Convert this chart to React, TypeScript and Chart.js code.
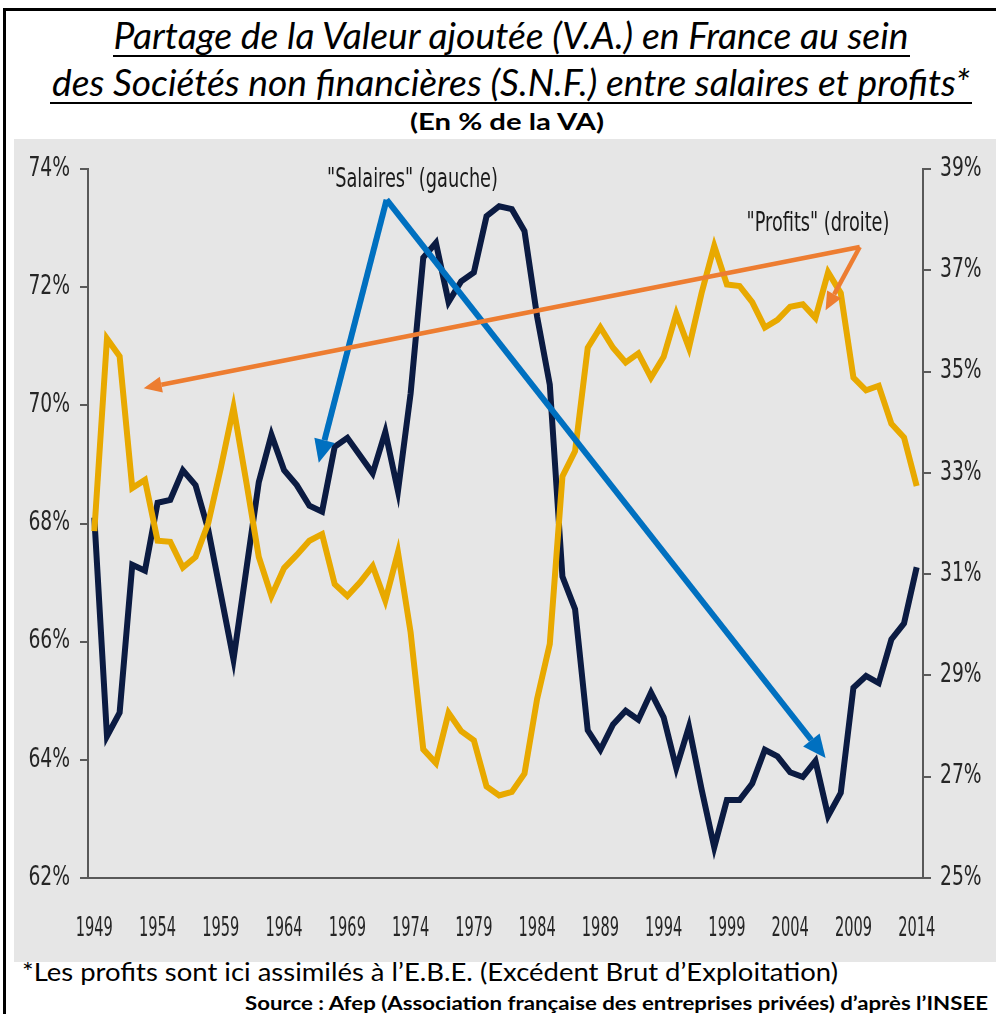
import React, { useEffect, useRef } from 'react';
import { Chart, registerables } from 'chart.js';

Chart.register(...registerables);

const years = [
  '1949', '1950', '1951', '1952', '1953', '1954', '1955', '1956', '1957', '1958',
  '1959', '1960', '1961', '1962', '1963', '1964', '1965', '1966', '1967', '1968',
  '1969', '1970', '1971', '1972', '1973', '1974', '1975', '1976', '1977', '1978',
  '1979', '1980', '1981', '1982', '1983', '1984', '1985', '1986', '1987', '1988',
  '1989', '1990', '1991', '1992', '1993', '1994', '1995', '1996', '1997', '1998',
  '1999', '2000', '2001', '2002', '2003', '2004', '2005', '2006', '2007', '2008',
  '2009', '2010', '2011', '2012', '2013', '2014',
];

// "Salaires" (left axis, % of VA)
const salaires = [
  68.1, 64.4, 64.8, 67.3, 67.2, 68.35, 68.4, 68.9, 68.65, 67.9,
  66.8, 65.7, 67.2, 68.7, 69.5, 68.9, 68.65, 68.3, 68.2, 69.3,
  69.45, 69.15, 68.85, 69.55, 68.55, 70.2, 72.5, 72.75, 71.75, 72.1,
  72.25, 73.2, 73.37, 73.32, 72.95, 71.5, 70.35, 67.1, 66.55, 64.5,
  64.17, 64.6, 64.83, 64.68, 65.14, 64.72, 63.86, 64.56, 63.5, 62.52,
  63.32, 63.32, 63.6, 64.17, 64.06, 63.79, 63.71, 63.98, 63.05, 63.44,
  65.22, 65.42, 65.3, 66.04, 66.31, 67.26,
];

// "Profits" (right axis, % of VA)
const profits = [
  31.85, 35.65, 35.3, 32.7, 32.86, 31.66, 31.64, 31.13, 31.34, 32.0,
  33.1, 34.29, 32.84, 31.34, 30.57, 31.12, 31.38, 31.66, 31.79, 30.8,
  30.57, 30.84, 31.16, 30.48, 31.43, 29.85, 27.54, 27.27, 28.26, 27.9,
  27.72, 26.81, 26.63, 26.7, 27.06, 28.54, 29.62, 32.93, 33.43, 35.47,
  35.87, 35.47, 35.18, 35.36, 34.88, 35.29, 36.14, 35.47, 36.55, 37.48,
  36.72, 36.69, 36.37, 35.87, 36.02, 36.28, 36.33, 36.06, 36.96, 36.55,
  34.88, 34.63, 34.72, 33.97, 33.7, 32.74,
];

const leftTicks = [62, 64, 66, 68, 70, 72, 74];
const rightTicks = [25, 27, 29, 31, 33, 35, 37, 39];

// annotation anchors in data units: [year, left-axis value]
const salairesLabel = ['"Salaires" (gauche)', 1974.15, 73.82];
const salairesArrowFrom = [1972.1, 73.48];
const salairesArrowTo = [[1966.74, 69.03], [2006.8, 64.03]];
const profitsLabel = ['"Profits" (droite)', 2006.2, 73.07];
const profitsArrowFrom = [2009.5, 72.68];
const profitsArrowTo = [[1952.9, 70.29], [2006.8, 71.61]];

const TICK_FONT = "'DejaVu Sans Condensed', 'Liberation Sans Narrow', 'Arial Narrow', sans-serif";
// horizontal squeeze per font size (imitates the narrow, tall glyphs of the original)
const SQUEEZE = { 27: 0.6, 26: 0.8 };

function drawArrow(ctx, x0, y0, x1, y1, color, width, headLen, headW) {
  const ang = Math.atan2(y1 - y0, x1 - x0);
  const bx = x1 - Math.cos(ang) * headLen;
  const by = y1 - Math.sin(ang) * headLen;
  ctx.save();
  ctx.strokeStyle = color;
  ctx.fillStyle = color;
  ctx.lineWidth = width;
  ctx.lineCap = 'butt';
  ctx.beginPath();
  ctx.moveTo(x0, y0);
  ctx.lineTo(bx, by);
  ctx.stroke();
  ctx.beginPath();
  ctx.moveTo(x1, y1);
  ctx.lineTo(bx + Math.sin(ang) * headW / 2, by - Math.cos(ang) * headW / 2);
  ctx.lineTo(bx - Math.sin(ang) * headW / 2, by + Math.cos(ang) * headW / 2);
  ctx.closePath();
  ctx.fill();
  ctx.restore();
}

const squeezePlugin = {
  id: 'squeeze',
  beforeDraw(chart) {
    const ctx = chart.ctx;
    if (Object.prototype.hasOwnProperty.call(ctx, 'fillText')) return;
    const orig = CanvasRenderingContext2D.prototype.fillText;
    ctx.fillText = function (text, x, y) {
      const m = /(\d+(?:\.\d+)?)px/.exec(this.font);
      const size = m ? Math.round(parseFloat(m[1])) : 0;
      const sx = SQUEEZE[size] ?? 1;
      this.save();
      this.translate(x, y);
      this.scale(sx, 1);
      orig.call(this, text, 0, 0);
      this.restore();
    };
  },
  beforeDatasetsDraw(chart) {
    delete chart.ctx.fillText;
  },
  afterDraw(chart) {
    delete chart.ctx.fillText;
  },
};

const annotationPlugin = {
  id: 'annotations',
  afterDatasetsDraw(chart) {
    const { ctx } = chart;
    const xs = chart.scales.x;
    const ys = chart.scales.y;
    const px = (yr) => xs.getPixelForValue(yr - 1949);
    const py = (v) => ys.getPixelForValue(v);

    const sx0 = px(salairesArrowFrom[0]);
    const sy0 = py(salairesArrowFrom[1]);
    salairesArrowTo.forEach(([yr, v]) => {
      drawArrow(ctx, sx0, sy0, px(yr), py(v), '#0070c0', 6, 23, 21);
    });
    const ox0 = px(profitsArrowFrom[0]);
    const oy0 = py(profitsArrowFrom[1]);
    profitsArrowTo.forEach(([yr, v]) => {
      drawArrow(ctx, ox0, oy0, px(yr), py(v), '#ed7d31', 4.5, 18, 16);
    });

    ctx.save();
    ctx.fillStyle = '#1a1a1a';
    ctx.font = `27px ${TICK_FONT}`;
    ctx.textAlign = 'center';
    ctx.textBaseline = 'middle';
    [salairesLabel, profitsLabel].forEach(([t, yr, v]) => {
      ctx.save();
      ctx.translate(px(yr as number), py(v as number));
      ctx.scale(0.73, 1);
      ctx.fillText(t as string, 0, 0);
      ctx.restore();
    });
    ctx.restore();
  },
};

function ChartCanvas() {
  const ref = useRef(null);
  useEffect(() => {
    const chart = new Chart(ref.current, {
      type: 'line',
      data: {
        labels: years,
        datasets: [
          {
            label: 'Profits',
            data: profits,
            yAxisID: 'y1',
            borderColor: '#e8a900',
            borderWidth: 6,
            pointRadius: 0,
            tension: 0,
            order: 1,
          },
          {
            label: 'Salaires',
            data: salaires,
            yAxisID: 'y',
            borderColor: '#0b1b42',
            borderWidth: 6,
            pointRadius: 0,
            tension: 0,
            order: 2,
          },
        ],
      },
      options: {
        animation: false,
        responsive: false,
        maintainAspectRatio: false,
        layout: { padding: { top: 30, left: 0, right: 0, bottom: 0 } },
        plugins: {
          legend: { display: false },
          tooltip: { enabled: false },
          title: { display: false },
        },
        scales: {
          x: {
            type: 'category',
            offset: true,
            grid: { display: false, drawTicks: false },
            border: { display: true, color: '#595959', width: 2 },
            ticks: {
              autoSkip: false,
              maxRotation: 0,
              minRotation: 0,
              padding: 35,
              color: '#262626',
              font: { family: TICK_FONT, size: 27 },
              callback: (v, i) => (i % 5 === 0 ? years[i] : ''),
            },
            afterFit: (s) => { s.height = 84; },
          },
          y: {
            position: 'left',
            min: 62,
            max: 74,
            afterBuildTicks: (s) => { s.ticks = leftTicks.map((v) => ({ value: v })); },
            ticks: {
              padding: 10,
              color: '#262626',
              font: { family: TICK_FONT, size: 26 },
              callback: (v) => `${v}%`,
            },
            grid: { drawOnChartArea: false, tickLength: 8, color: '#595959', lineWidth: 2 },
            border: { display: true, color: '#595959', width: 2 },
            afterFit: (s) => { s.width = 74; },
          },
          y1: {
            position: 'right',
            min: 25,
            max: 39,
            afterBuildTicks: (s) => { s.ticks = rightTicks.map((v) => ({ value: v })); },
            ticks: {
              padding: 9,
              color: '#262626',
              font: { family: TICK_FONT, size: 26 },
              callback: (v) => `${v}%`,
            },
            grid: { drawOnChartArea: false, tickLength: 8, color: '#595959', lineWidth: 2 },
            border: { display: true, color: '#595959', width: 2 },
            afterFit: (s) => { s.width = 73; },
          },
        },
      },
      plugins: [squeezePlugin, annotationPlugin],
    });
    return () => chart.destroy();
  }, []);
  return (
    <canvas
      ref={ref}
      width={982}
      height={823}
      style={{ position: 'absolute', left: 14, top: 139, width: 982, height: 823, background: '#e6e6e6' }}
    />
  );
}

export default function App() {
  const font = "Lato, 'Open Sans', sans-serif";
  return (
    <div style={{ position: 'absolute', left: 0, top: 0, width: 996, height: 1014, background: '#fff', overflow: 'hidden' }}>
      <svg width={996} height={1014} style={{ position: 'absolute', left: 0, top: 0 }}>
        <rect x={3} y={8} width={1000} height={3} fill="#000" />
        <rect x={3} y={8} width={3} height={1010} fill="#000" />
        <text x={511} y={49} textAnchor="middle" fontFamily={font} fontStyle="italic" fontSize={36}
          textLength={795} lengthAdjust="spacingAndGlyphs" fill="#000">
          Partage de la Valeur ajoutée (V.A.) en France au sein
        </text>
        <rect x={113} y={55} width={797} height={2} fill="#000" />
        <text x={511} y={96} textAnchor="middle" fontFamily={font} fontStyle="italic" fontSize={36}
          textLength={918} lengthAdjust="spacingAndGlyphs" fill="#000">
          des Sociétés non financières (S.N.F.) entre salaires et profits*
        </text>
        <rect x={50} y={102} width={922} height={2} fill="#000" />
        <text x={507} y={130} textAnchor="middle" fontFamily={font} fontWeight="bold" fontSize={23}
          textLength={194} lengthAdjust="spacingAndGlyphs" fill="#000">
          (En % de la VA)
        </text>
        <text x={22} y={981} fontFamily={font} fontSize={25}
          textLength={816} lengthAdjust="spacingAndGlyphs" fill="#000">
          *Les profits sont ici assimilés à l’E.B.E. (Excédent Brut d’Exploitation)
        </text>
        <text x={988} y={1010} textAnchor="end" fontFamily={font} fontWeight="bold" fontSize={19}
          textLength={743} lengthAdjust="spacingAndGlyphs" fill="#000">
          Source : Afep (Association française des entreprises privées) d’après l’INSEE
        </text>
      </svg>
      <ChartCanvas />
    </div>
  );
}
